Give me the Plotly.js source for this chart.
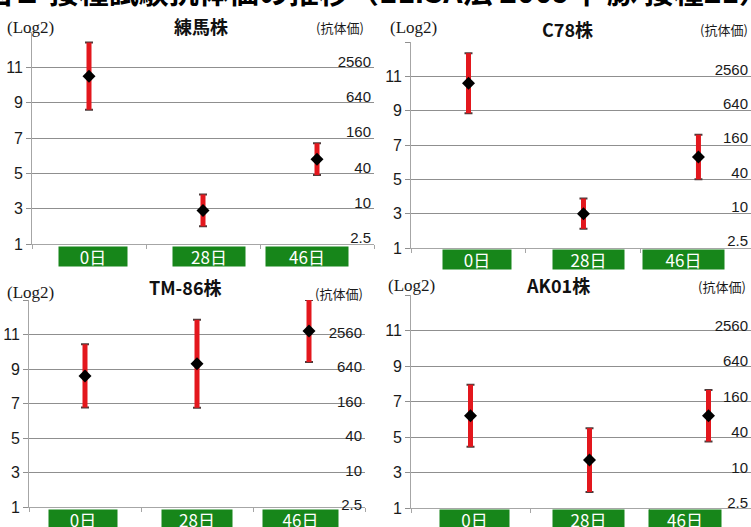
<!DOCTYPE html>
<html>
<head>
<meta charset="utf-8">
<script src="https://cdn.plot.ly/plotly-3.0.1.min.js"></script>
<style>
  html, body { margin: 0; padding: 0; background: #ffffff; }
  #chart { width: 751px; height: 527px; }
</style>
</head>
<body>
<div id="chart"></div>
<script>
// Sampling days (categories on every panel)
const days = ['0日', '28日', '46日'];

// Strain names, one panel each
const strainNames = ['練馬株', 'C78株', 'TM-86株', 'AK01株'];

// Mean antibody titre (log2) and standard deviation per sampling day
const nerimaMean = [10.5, 2.9, 5.8];
const nerimaSD   = [1.9, 0.9, 0.9];
const c78Mean    = [10.6, 3.0, 6.3];
const c78SD      = [1.75, 0.88, 1.3];
const tm86Mean   = [8.6, 9.3, 11.2];
const tm86SD     = [1.83, 2.55, 1.8];
const ak01Mean   = [6.2, 3.7, 6.2];
const ak01SD     = [1.75, 1.8, 1.45];

// Left axis (log2) ticks
const log2Ticks = [1, 3, 5, 7, 9, 11, 13];
const log2Text  = ['1', '3', '5', '7', '9', '11', ''];

// Right axis: the same gridlines expressed as antibody titre
const titerTicks = [1, 3, 5, 7, 9, 11];
const titerText  = ['2.5', '10', '40', '160', '640', '2560'];

const chartTitle = '図１ 接種試験抗体価の推移（ELISA法 2009年 豚 接種21）';

// ---- layout helpers -------------------------------------------------------
const W = 751, H = 527;
const fx = p => p / W;
const fy = p => 1 - p / H;

const means = [nerimaMean, c78Mean, tm86Mean, ak01Mean];
const sds   = [nerimaSD, c78SD, tm86SD, ak01SD];

// Per-panel geometry (pixels); shift = how far titre labels sit above their line
const panels = [
  { x: [32, 374],  y: [244, 32],  xr: [-0.5, 2.5],   shift: 6, boxDy: -2,
    boxShift: [4, 6, -10],    boxW: [68, 72, 82],
    logLab: [5, 27], name: [201, 26], unit: [366, 28] },
  { x: [411, 751], y: [248, 42],  xr: [-0.5, 2.457], shift: 7, boxDy: -1,
    boxShift: [8.5, 5, -15],  boxW: [68, 71, 81],
    logLab: [388, 27], name: [567, 29], unit: [750, 30] },
  { x: [29, 365],  y: [507, 300], xr: [-0.5, 2.5],   shift: 2, boxDy: -2,
    boxShift: [-2, 0, -8.5],  boxW: [68, 70, 75],
    logLab: [5, 292], name: [185, 287], unit: [365, 293] },
  { x: [411, 751], y: [508, 295], xr: [-0.5, 2.357], shift: 5, boxDy: -1,
    boxShift: [4, -1, -23.5], boxW: [69, 71, 72],
    logLab: [386, 285], name: [558, 285], unit: [748, 286] }
];

const GRID = '#8f8f8f';
const AXIS = '#a6a6a6';
const GREEN = '#17861a';
const BAR_RED = '#e3171d';
const CAP = '#4d3b3b';
const NUM_FONT = 'Liberation Sans, Arial, sans-serif';
const JP_FONT = 'Noto Sans CJK JP, sans-serif';

const traces = [];
const layout = {
  width: W, height: H,
  margin: { l: 0, r: 0, t: 0, b: 0 },
  paper_bgcolor: '#ffffff',
  plot_bgcolor: '#ffffff',
  showlegend: false,
  annotations: [],
  shapes: []
};

panels.forEach((p, i) => {
  const n = i + 1;
  const xa = 'x' + n, ya = 'y' + n, yr = 'y' + (n + 4);
  const xKey = 'xaxis' + n, yKey = 'yaxis' + n, y2Key = 'yaxis' + (n + 4);

  // error-bar caps (thin dark), drawn first
  traces.push({
    type: 'scatter', mode: 'markers',
    x: days, y: means[i], xaxis: xa, yaxis: ya,
    marker: { color: 'rgba(0,0,0,0)', size: 1 },
    error_y: { type: 'data', array: sds[i], visible: true,
               color: CAP, thickness: 2, width: 4 },
    hoverinfo: 'skip'
  });
  // red error bars + black diamond mean markers
  traces.push({
    type: 'scatter', mode: 'markers',
    x: days, y: means[i], xaxis: xa, yaxis: ya,
    marker: { symbol: 'diamond', color: '#000000', size: 10 },
    error_y: { type: 'data', array: sds[i], visible: true,
               color: BAR_RED, thickness: 5, width: 0 }
  });
  // same means registered on the titre axis so that axis is laid out
  traces.push({
    type: 'scatter', mode: 'markers',
    x: days, y: means[i], xaxis: xa, yaxis: yr,
    marker: { color: 'rgba(0,0,0,0)', size: 1 },
    hoverinfo: 'skip'
  });

  layout[xKey] = {
    domain: [fx(p.x[0]), fx(p.x[1])],
    anchor: ya,
    type: 'category',
    categoryarray: days,
    range: p.xr,
    showgrid: false, zeroline: false,
    showline: true, linecolor: AXIS, linewidth: 1,
    ticks: 'outside', tickson: 'boundaries', ticklen: 4, tickcolor: AXIS,
    showticklabels: false,
    fixedrange: true
  };
  layout[yKey] = {
    domain: [fy(p.y[0]), fy(p.y[1])],
    anchor: xa,
    range: [1, 13],
    tickvals: log2Ticks, ticktext: log2Text,
    showgrid: true, gridcolor: GRID, gridwidth: 1,
    zeroline: false,
    showline: true, linecolor: AXIS, linewidth: 1,
    ticks: 'outside', ticklen: 5, tickcolor: GRID,
    tickfont: { family: NUM_FONT, size: 16, color: '#1a1a1a' },
    fixedrange: true
  };
  layout[y2Key] = {
    overlaying: ya,
    anchor: xa,
    side: 'right',
    range: [1, 13],
    tickvals: titerTicks, ticktext: titerText,
    showgrid: false, zeroline: false, showline: false, ticks: '',
    ticklabelposition: 'inside',
    ticklabeloverflow: 'allow',
    ticklabelshift: -p.shift,
    tickfont: { family: NUM_FONT, size: 15, color: '#1a1a1a' },
    fixedrange: true
  };

  // white backing behind the titre labels so the gridlines stop short of them
  titerTicks.forEach((t, k) => {
    const wpx = titerText[k].length * 8.3 + 8;
    layout.shapes.push({
      type: 'rect', layer: 'between',
      xref: 'paper', xsizemode: 'pixel', xanchor: fx(p.x[1]),
      x0: -wpx, x1: 0,
      yref: ya, ysizemode: 'pixel', yanchor: t,
      y0: p.shift - 9, y1: p.shift + 9,
      fillcolor: '#ffffff', line: { width: 0 }
    });
  });

  // green day labels under the axis
  days.forEach((d, k) => {
    layout.annotations.push({
      xref: xa, x: d, xshift: p.boxShift[k],
      yref: ya + ' domain', y: 0, yanchor: 'top', yshift: p.boxDy,
      text: d, showarrow: false,
      width: p.boxW[k], height: 19, borderpad: 0,
      bgcolor: GREEN,
      font: { family: JP_FONT, size: 17, color: '#ffffff' }
    });
  });

  // panel captions
  layout.annotations.push({
    xref: 'paper', yref: 'paper', x: fx(p.logLab[0]), y: fy(p.logLab[1]),
    xanchor: 'left', yanchor: 'middle', showarrow: false,
    text: '(Log2)',
    font: { family: 'Liberation Serif, serif', size: 17, color: '#1a1a1a' }
  });
  layout.annotations.push({
    xref: 'paper', yref: 'paper', x: fx(p.name[0]), y: fy(p.name[1]),
    xanchor: 'center', yanchor: 'middle', showarrow: false,
    text: '<b>' + strainNames[i] + '</b>',
    font: { family: JP_FONT, size: 18, color: '#111111' }
  });
  layout.annotations.push({
    xref: 'paper', yref: 'paper', x: fx(p.unit[0]), y: fy(p.unit[1]),
    xanchor: 'right', yanchor: 'middle', showarrow: false,
    text: '(抗体価)',
    font: { family: JP_FONT, size: 13, color: '#1a1a1a' }
  });
});

// figure heading, running off the top edge
layout.annotations.push({
  xref: 'paper', yref: 'paper', x: 0.5, y: 1,
  xanchor: 'center', yanchor: 'top', yshift: 34, showarrow: false,
  text: '<b>' + chartTitle + '</b>',
  font: { family: JP_FONT, size: 30, color: '#000000' }
});

Plotly.newPlot('chart', traces, layout, { staticPlot: true, displayModeBar: false });
</script>
</body>
</html>
